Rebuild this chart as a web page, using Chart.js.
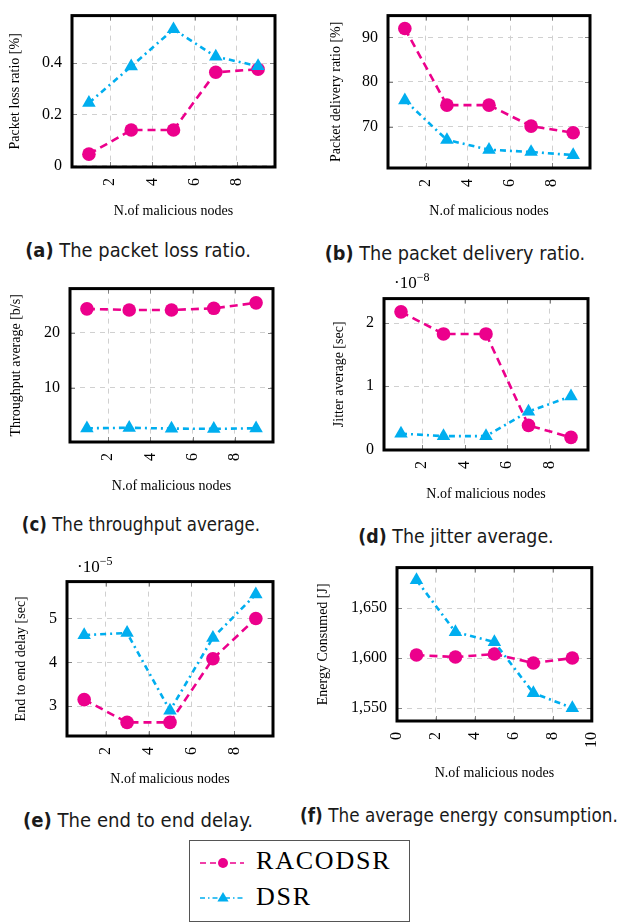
<!DOCTYPE html>
<html>
<head>
<meta charset="utf-8">
<script src="https://cdn.jsdelivr.net/npm/chart.js@4.4.1/dist/chart.umd.min.js"></script>
<style>
  body { margin: 0; background: #fff; width: 622px; height: 922px; position: relative; overflow: hidden; }
  canvas { position: absolute; }
  .cap { position: absolute; width: 440px; text-align: center; font-family: "DejaVu Sans", sans-serif;
         font-size: 20px; line-height: 20px; color: #1a1a1a; white-space: nowrap; transform-origin: 50% 50%; }
  .mult { position: absolute; font-family: "Liberation Serif", serif; font-size: 17px; line-height: 17px; white-space: nowrap; }
  .mult sup { font-size: 12px; vertical-align: 7px; line-height: 0; }
  .legend { position: absolute; left: 189px; top: 840px; width: 221px; height: 82px; border: 1px solid #555; box-sizing: border-box; }
  .legend span { position: absolute; left: 66px; font-family: "Liberation Serif", serif; font-size: 26px; line-height: 26px; letter-spacing: 1.8px; }
</style>
</head>
<body>
<canvas id="lossChart"></canvas>
<canvas id="deliveryChart"></canvas>
<canvas id="throughputChart"></canvas>
<canvas id="jitterChart"></canvas>
<canvas id="delayChart"></canvas>
<canvas id="energyChart"></canvas>

<div class="cap" style="left:-82px;top:240px;transform:scaleX(0.895)"><b>(a)</b> The packet loss ratio.</div>
<div class="cap" style="left:235px;top:243px;transform:scaleX(0.884)"><b>(b)</b> The packet delivery ratio.</div>
<div class="cap" style="left:-79px;top:514px;transform:scaleX(0.832)"><b>(c)</b> The throughput average.</div>
<div class="cap" style="left:236px;top:526px;transform:scaleX(0.87)"><b>(d)</b> The jitter average.</div>
<div class="cap" style="left:-82px;top:810px;transform:scaleX(0.904)"><b>(e)</b> The end to end delay.</div>
<div class="cap" style="left:239px;top:805px;transform:scaleX(0.843)"><b>(f)</b> The average energy consumption.</div>

<div class="mult" style="left:394px;top:274px">·10<sup>−8</sup></div>
<div class="mult" style="left:77px;top:558px">·10<sup>−5</sup></div>

<div class="legend">
  <svg width="60" height="80" style="position:absolute;left:0;top:0">
    <line x1="10" y1="22" x2="54" y2="22" stroke="#EC008C" stroke-width="1.3" stroke-dasharray="6 4"/>
    <circle cx="33" cy="22" r="5" fill="#EC008C"/>
    <line x1="10" y1="57" x2="54" y2="57" stroke="#00AEEF" stroke-width="1.3" stroke-dasharray="5 3 1.5 3"/>
    <polygon points="33,51 38.6,60.5 27.4,60.5" fill="#00AEEF"/>
  </svg>
  <span style="top:7px">RACODSR</span>
  <span style="top:43px">DSR</span>
</div>

<script>
// number of malicious nodes (x of every sub-plot)
const nodes = [1, 3, 5, 7, 9];

// (a) packet loss ratio [%]
const lossRacodsr = [0.045, 0.139, 0.139, 0.364, 0.376];
const lossDsr     = [0.245, 0.387, 0.532, 0.425, 0.388];

// (b) packet delivery ratio [%]
const deliveryRacodsr = [92.0, 74.8, 74.8, 70.1, 68.6];
const deliveryDsr     = [75.9, 67.0, 64.8, 64.3, 63.6];

// (c) throughput average [b/s]
const throughputRacodsr = [24.4, 24.2, 24.2, 24.5, 25.5];
const throughputDsr     = [2.6, 2.7, 2.55, 2.5, 2.6];

// (d) jitter average, in units of 1e-8 sec
const jitterRacodsr = [2.18, 1.83, 1.83, 0.38, 0.19];
const jitterDsr     = [0.25, 0.21, 0.21, 0.60, 0.84];

// (e) end to end delay, in units of 1e-5 sec
const delayRacodsr = [3.15, 2.63, 2.63, 4.08, 5.0];
const delayDsr     = [4.62, 4.67, 2.9, 4.56, 5.55];

// (f) energy consumed [J]
const energyRacodsr = [1603, 1601, 1604, 1595, 1600];
const energyDsr     = [1678, 1626, 1616, 1565, 1550];

// tick labels
const xTicks       = [2, 4, 6, 8];
const xTicksEnergy = [0, 2, 4, 6, 8, 10];
const lossTicks       = [0, 0.2, 0.4];
const deliveryTicks   = [70, 80, 90];
const throughputTicks = [10, 20];
const jitterTicks     = [0, 1, 2];
const delayTicks      = [3, 4, 5];
const energyTicks     = [1550, 1600, 1650];

const MAGENTA = '#EC008C';
const CYAN = '#00AEEF';
const SERIF = '"Liberation Serif", serif';

const frame = {
  id: 'frame',
  beforeDatasetsDraw(chart) {
    const { ctx, chartArea: a, scales: { x, y } } = chart;
    ctx.save();
    ctx.strokeStyle = '#808080';
    ctx.lineWidth = 1;
    ctx.beginPath();
    x.ticks.forEach(t => {
      const px = Math.round(x.getPixelForValue(t.value)) + 0.5;
      ctx.moveTo(px, a.bottom); ctx.lineTo(px, a.bottom - 5);
      ctx.moveTo(px, a.top); ctx.lineTo(px, a.top + 5);
    });
    y.ticks.forEach(t => {
      const py = Math.round(y.getPixelForValue(t.value)) + 0.5;
      ctx.moveTo(a.left, py); ctx.lineTo(a.left + 5, py);
      ctx.moveTo(a.right, py); ctx.lineTo(a.right - 5, py);
    });
    ctx.stroke();
    ctx.restore();
  },
  afterDatasetsDraw(chart) {
    const { ctx, chartArea: a } = chart;
    ctx.save();
    ctx.strokeStyle = '#000';
    ctx.lineWidth = 3;
    ctx.strokeRect(a.left, a.top, a.right - a.left, a.bottom - a.top);
    ctx.restore();
  },
};

// o.col / o.colW: column of the page, o.box: [left, right, top, bottom] of the plot frame
function plot(id, o) {
  const c = document.getElementById(id);
  const [L, R, T, B] = o.box;
  const top = T - 14, bottom = o.xTitleY + 14;
  c.width = o.colW; c.height = bottom - top;
  c.style.left = o.col + 'px'; c.style.top = top + 'px';
  const titleFont = { family: SERIF, size: 14 };
  const half = 14 * 1.2 / 2;
  const tickFont = { family: SERIF, size: 16 };
  const fmt = o.fmt || (v => String(v));

  return new Chart(c, {
    type: 'line',
    data: {
      datasets: [
        { label: 'RACODSR', data: nodes.map((x, i) => ({ x, y: o.racodsr[i] })), order: 2,
          borderColor: MAGENTA, backgroundColor: MAGENTA, borderWidth: 2.6, borderDash: [8, 5],
          pointStyle: 'circle', pointRadius: 6.8, pointBorderWidth: 0, clip: false },
        { label: 'DSR', data: nodes.map((x, i) => ({ x, y: o.dsr[i] })), order: 1,
          borderColor: CYAN, backgroundColor: CYAN, borderWidth: 2.6, borderDash: [6, 4, 2, 4],
          pointStyle: 'triangle', pointRadius: 7.8, pointBorderWidth: 0, clip: false },
      ],
    },
    options: {
      responsive: false, animation: false,
      layout: { padding: { left: 0, top: T - top, right: o.col + o.colW - R, bottom: 0 } },
      plugins: { legend: { display: false }, tooltip: { enabled: false } },
      scales: {
        x: {
          type: 'linear', min: o.xMin, max: o.xMax,
          afterBuildTicks: s => { s.ticks = o.xTicks.map(v => ({ value: v })); },
          afterFit: s => { s.height = bottom - B; },
          ticks: { minRotation: 90, maxRotation: 90, autoSkip: false, padding: 11, font: tickFont, color: '#000' },
          grid: { color: '#d0d0d0', drawTicks: false },
          border: { display: false, dash: [5, 5] },
          title: { display: true, text: 'N.of malicious nodes', font: titleFont, color: '#000',
                   padding: { top: 0, bottom: bottom - o.xTitleY - half } },
        },
        y: {
          type: 'linear', min: o.yMin, max: o.yMax,
          afterBuildTicks: s => { s.ticks = o.yTicks.map(v => ({ value: v })); },
          afterFit: s => { s.width = L - o.col; },
          ticks: { padding: 10, font: tickFont, color: '#000', callback: fmt },
          grid: { color: '#d0d0d0', drawTicks: false },
          border: { display: false, dash: [5, 5] },
          title: { display: true, text: o.yTitle, font: titleFont, color: '#000',
                   padding: { top: o.yTitleX - o.col - half, bottom: 0 } },
        },
      },
    },
    plugins: [frame],
  });
}

plot('lossChart', {
  col: 0, colW: 300, box: [72, 275, 10, 167], xTitleY: 211, yTitleX: 15,
  racodsr: lossRacodsr, dsr: lossDsr, yMin: -0.005, yMax: 0.585, yTicks: lossTicks,
  xMin: 0.2, xMax: 9.8, xTicks, yTitle: 'Packet loss ratio [%]',
});
plot('deliveryChart', {
  col: 311, colW: 311, box: [388, 590, 10, 168], xTitleY: 211, yTitleX: 336,
  racodsr: deliveryRacodsr, dsr: deliveryDsr, yMin: 60.7, yMax: 94.9, yTicks: deliveryTicks,
  xMin: 0.2, xMax: 9.8, xTicks, yTitle: 'Packet delivery ratio [%]',
});
plot('throughputChart', {
  col: 0, colW: 300, box: [70, 273, 283, 442], xTitleY: 486, yTitleX: 16,
  racodsr: throughputRacodsr, dsr: throughputDsr, yMin: 0.1, yMax: 28.1, yTicks: throughputTicks,
  xMin: 0.2, xMax: 9.8, xTicks, yTitle: 'Throughput average [b/s]',
});
plot('jitterChart', {
  col: 311, colW: 311, box: [384, 588, 293, 450], xTitleY: 494, yTitleX: 339,
  racodsr: jitterRacodsr, dsr: jitterDsr, yMin: -0.01, yMax: 2.39, yTicks: jitterTicks,
  xMin: 0.2, xMax: 9.8, xTicks, yTitle: 'Jitter average [sec]',
});
plot('delayChart', {
  col: 0, colW: 300, box: [67, 273, 576, 736], xTitleY: 779, yTitleX: 21,
  racodsr: delayRacodsr, dsr: delayDsr, yMin: 2.32, yMax: 5.84, yTicks: delayTicks,
  xMin: 0.2, xMax: 9.8, xTicks, yTitle: 'End to end delay [sec]',
});
plot('energyChart', {
  col: 311, colW: 311, box: [397, 601, 562, 721], xTitleY: 773, yTitleX: 323,
  racodsr: energyRacodsr, dsr: energyDsr, yMin: 1537, yMax: 1690.5, yTicks: energyTicks,
  xMin: 0, xMax: 10, xTicks: xTicksEnergy, yTitle: 'Energy Consumed [J]',
  fmt: v => v.toLocaleString('en-US'),
});
</script>
</body>
</html>
